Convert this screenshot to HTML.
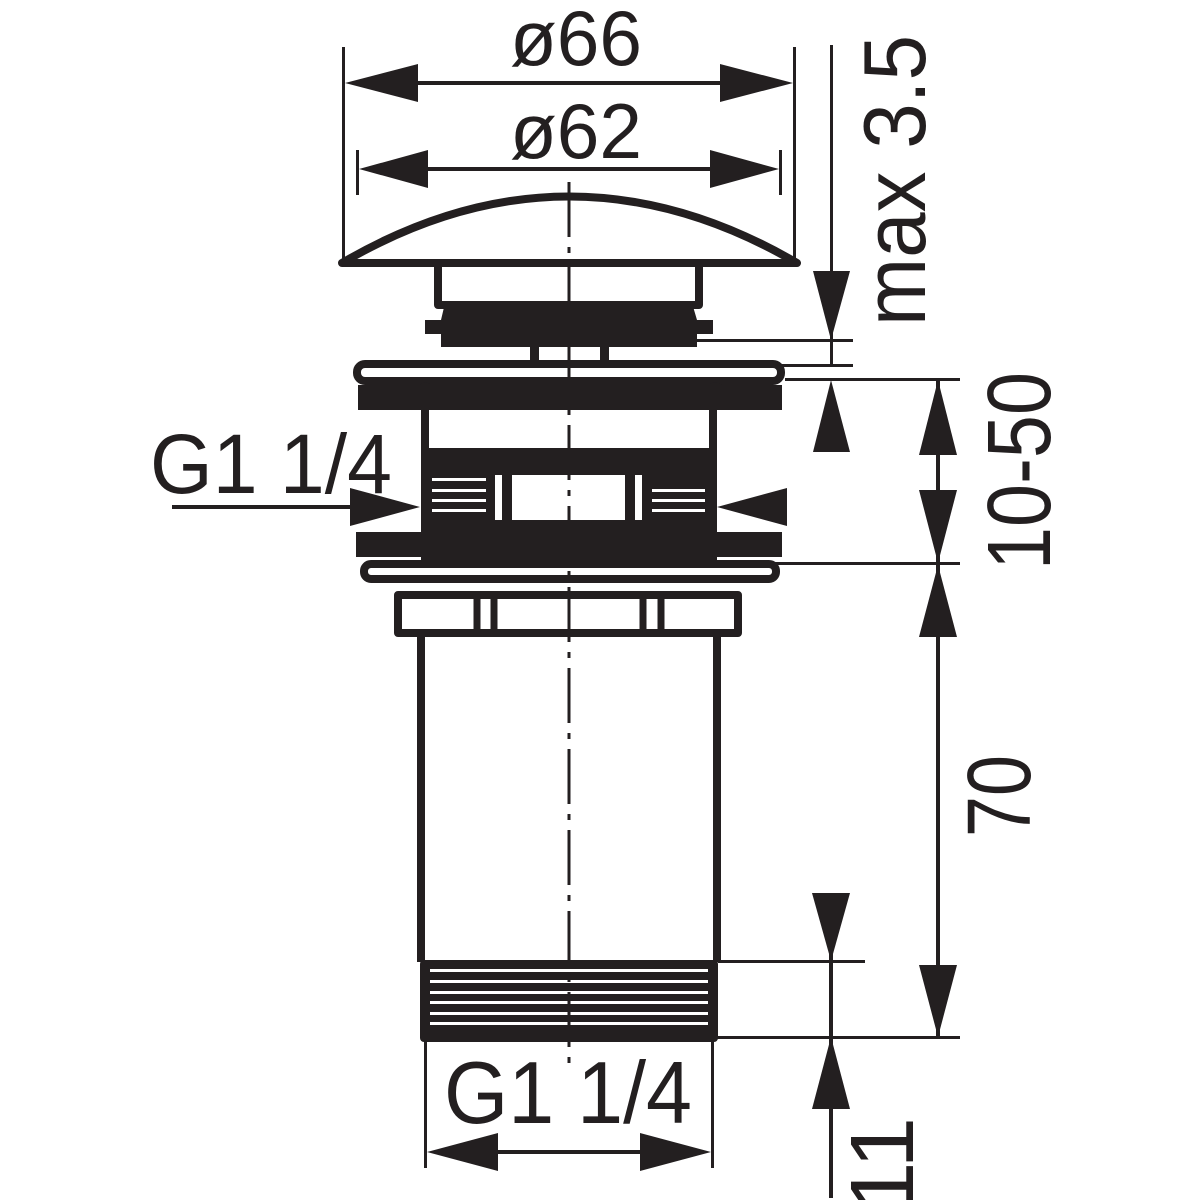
<!DOCTYPE html>
<html><head><meta charset="utf-8"><style>html,body{margin:0;padding:0;background:#fff}svg{display:block}</style></head>
<body>
<svg width="1200" height="1200" viewBox="0 0 1200 1200" xmlns="http://www.w3.org/2000/svg">
<g fill="#231f20" stroke="none">
<!-- top dims -->
<rect x="342" y="47" width="3" height="218"/>
<rect x="793" y="47" width="3" height="218"/>
<rect x="410" y="81" width="320" height="4"/>
<polygon points="345,83 418,64 418,102"/>
<polygon points="793,83 720,64 720,102"/>
<rect x="356" y="150" width="3" height="45"/>
<rect x="779" y="150" width="3" height="45"/>
<rect x="420" y="167" width="300" height="4"/>
<polygon points="359,169 428,150 428,188"/>
<polygon points="779,169 710,150 710,188"/>
</g>
<g font-family="'Liberation Sans',sans-serif" fill="#231f20">
<text x="576" y="65" font-size="78" text-anchor="middle" textLength="132" lengthAdjust="spacingAndGlyphs">ø66</text>
<text x="576" y="158" font-size="78" text-anchor="middle" textLength="132" lengthAdjust="spacingAndGlyphs">ø62</text>
<text x="150" y="493" font-size="84" textLength="242" lengthAdjust="spacingAndGlyphs">G1 1/4</text>
<text x="444" y="1123" font-size="88" textLength="248" lengthAdjust="spacingAndGlyphs">G1 1/4</text>
<text transform="translate(925,326) rotate(-90)" font-size="88" textLength="291" lengthAdjust="spacingAndGlyphs">max 3.5</text>
<text transform="translate(1050,570) rotate(-90)" font-size="90" textLength="198" lengthAdjust="spacingAndGlyphs">10-50</text>
<text transform="translate(1030,837) rotate(-90)" font-size="90" textLength="82" lengthAdjust="spacingAndGlyphs">70</text>
<text transform="translate(913,1213) rotate(-90)" font-size="90" textLength="96" lengthAdjust="spacingAndGlyphs">11</text>
</g>
<!-- body -->
<g fill="none" stroke="#231f20" stroke-width="8" stroke-linejoin="round">
<path d="M342,263 Q569,130 797,263 Z"/>
<path d="M438,266 V305 H699 V266"/>
<rect x="357" y="364" width="424" height="17" rx="8"/>
<path d="M425,410 V450 M713,410 V450"/>
<rect x="364" y="564" width="412" height="15" rx="7"/>
<rect x="398" y="595" width="340" height="38"/>
<path d="M477,595 V633 M494,595 V633 M643,595 V633 M661,595 V633" stroke-width="7"/>
<path d="M421,633 V962 M717,633 V962"/>
</g>
<g fill="#231f20">
<path d="M445,303 H692 L697,320 H713 V334 H697 V347 H441 V334 H425 V320 H441 Z"/>
<rect x="530" y="347" width="9" height="18"/>
<rect x="600" y="347" width="9" height="18"/>
<path d="M358,385 H420 Q425,380 430,384 H710 Q716,380 722,385 H782 V410 H358 Z"/>
<rect x="421" y="448" width="296" height="116"/>
<rect x="356" y="532" width="426" height="25"/>
<rect x="420" y="960" width="298" height="82" rx="4"/>
<!-- dims right -->
<rect x="830" y="45" width="3" height="320"/>
<polygon points="831,340 813,271 850,271"/>
<rect x="695" y="339" width="158" height="3"/>
<rect x="780" y="364" width="73" height="3"/>
<polygon points="831,380 813,452 850,452"/>
<rect x="785" y="378" width="175" height="3"/>
<rect x="936" y="380" width="4" height="658"/>
<polygon points="938,380 919,455 957,455"/>
<polygon points="938,563 919,490 957,490"/>
<rect x="775" y="562" width="185" height="3"/>
<polygon points="938,565 919,637 957,637"/>
<polygon points="938,1037 919,965 957,965"/>
<rect x="715" y="1036" width="245" height="3"/>
<rect x="718" y="960" width="147" height="3"/>
<rect x="829" y="893" width="4" height="305"/>
<polygon points="831,961 812,893 850,893"/>
<polygon points="831,1037 812,1109 850,1109"/>
<!-- G1 1/4 left arrow -->
<rect x="172" y="505" width="185" height="4"/>
<polygon points="420,507 350,488 350,526"/>
<polygon points="717,507 787,488 787,526"/>
<!-- bottom dim -->
<rect x="424" y="1042" width="3" height="126"/>
<rect x="711" y="1042" width="3" height="126"/>
<rect x="490" y="1150" width="160" height="4"/>
<polygon points="427,1152 498,1133 498,1171"/>
<polygon points="711,1152 640,1133 640,1171"/>
</g>
<!-- white details -->
<g fill="#fff">
<rect x="512" y="475" width="113" height="45"/>
<rect x="495" y="475" width="7" height="45"/>
<rect x="635" y="475" width="7" height="45"/>
<rect x="432" y="478" width="54" height="3"/><rect x="432" y="489" width="54" height="3"/><rect x="432" y="499" width="54" height="3"/><rect x="432" y="509" width="54" height="3"/>
<rect x="652" y="489" width="53" height="3"/><rect x="652" y="499" width="53" height="3"/><rect x="652" y="509" width="53" height="3"/>
<rect x="430" y="969" width="278" height="3"/><rect x="430" y="980" width="278" height="3"/><rect x="430" y="991" width="278" height="3"/><rect x="430" y="1001" width="278" height="3"/><rect x="430" y="1012" width="278" height="3"/><rect x="430" y="1022" width="278" height="3"/>
</g>
<line x1="569" y1="182" x2="569" y2="1068" stroke="#231f20" stroke-width="3" stroke-dasharray="55 10 6 10"/>
</svg>
</body></html>
